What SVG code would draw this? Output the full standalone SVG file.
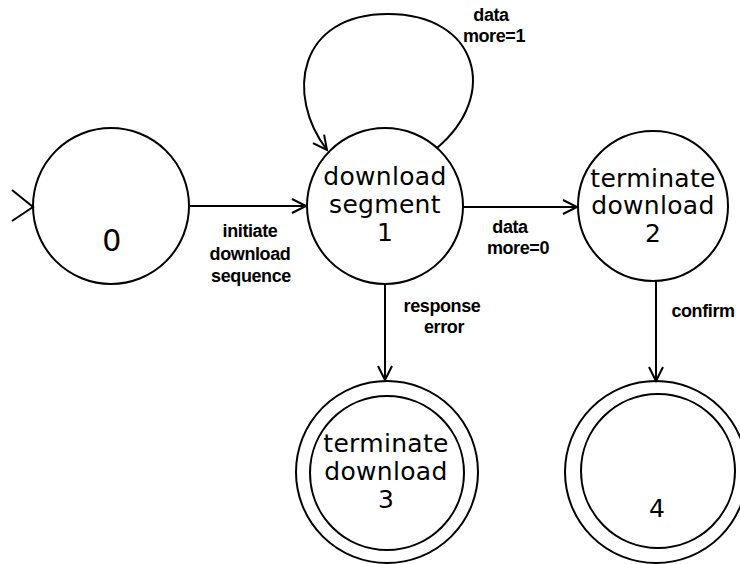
<svg xmlns="http://www.w3.org/2000/svg" width="740" height="564" viewBox="0 0 740 564">
<style>
.st{fill:none;stroke:#000;stroke-width:2}
.nt{font-family:"DejaVu Sans",sans-serif;font-size:25px;text-anchor:middle;fill:#000;letter-spacing:0.3px}
.lb{font-family:"Liberation Sans",Arial,sans-serif;font-weight:bold;font-size:18px;letter-spacing:-0.4px;text-anchor:middle;fill:#000}
.cn{fill:none;stroke:#000;stroke-width:2}
</style>
<defs>
<marker id="ah" markerUnits="userSpaceOnUse" markerWidth="20" markerHeight="20" viewBox="-16 -10 20 20" refX="0" refY="0" orient="auto">
<path d="M-14,-7 L0,0 L-14,7" fill="none" stroke="#000" stroke-width="2"/>
</marker>
</defs>
<rect width="740" height="564" fill="#fff"/>
<g id="connectors">
<path class="cn" d="M12,190 L33,207 L12,221"/>
<line class="cn" x1="189" y1="206" x2="306" y2="206" marker-end="url(#ah)"/>
<path class="cn" d="M437,148 C500,95 478,14 388,14 C298,14 285,95 327,150" marker-end="url(#ah)"/>
<line class="cn" x1="463" y1="207" x2="577" y2="207" marker-end="url(#ah)"/>
<line class="cn" x1="385" y1="284" x2="385" y2="380" marker-end="url(#ah)"/>
<line class="cn" x1="656" y1="281" x2="656" y2="381" marker-end="url(#ah)"/>
<text class="lb" x="250" y="237">initiate</text>
<text class="lb" x="250" y="260">download</text>
<text class="lb" x="251" y="282">sequence</text>
<text class="lb" x="491" y="21">data</text>
<text class="lb" x="494" y="42">more=1</text>
<text class="lb" x="510" y="233">data</text>
<text class="lb" x="518" y="254">more=0</text>
<text class="lb" x="442" y="312">response</text>
<text class="lb" x="444" y="333">error</text>
<text class="lb" x="703" y="317">confirm</text>
</g>
<g id="node0">
<circle class="st" cx="111" cy="206" r="78"/>
<text class="nt" x="112" y="251" style="font-size:30px">0</text>
</g>
<g id="node1">
<circle class="st" cx="385" cy="206" r="78"/>
<text class="nt" x="385" y="185">download</text>
<text class="nt" x="385" y="213">segment</text>
<text class="nt" x="385" y="241">1</text>
</g>
<g id="node2">
<circle class="st" cx="653" cy="206" r="75"/>
<text class="nt" x="653" y="187">terminate</text>
<text class="nt" x="653" y="214">download</text>
<text class="nt" x="653" y="242">2</text>
</g>
<g id="node3">
<circle class="st" cx="387" cy="472" r="91"/>
<circle class="st" cx="387" cy="473" r="77"/>
<text class="nt" x="386" y="452">terminate</text>
<text class="nt" x="386" y="480">download</text>
<text class="nt" x="386" y="508">3</text>
</g>
<g id="node4">
<circle class="st" cx="656" cy="472" r="91"/>
<circle class="st" cx="658" cy="471" r="77"/>
<text class="nt" x="657" y="517">4</text>
</g>
</svg>
